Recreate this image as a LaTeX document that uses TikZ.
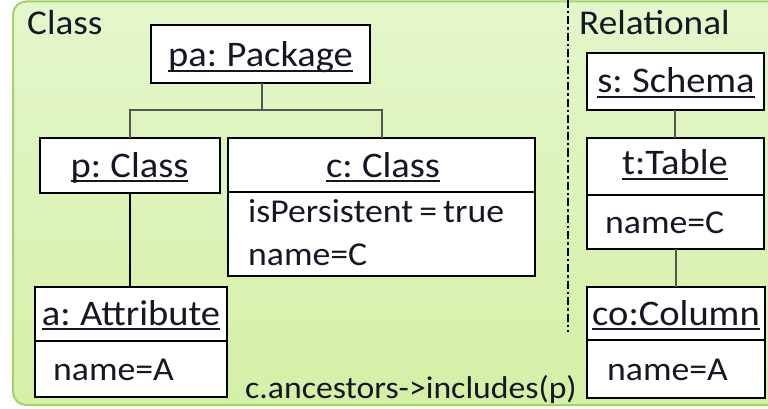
\documentclass[tikz,border=0pt]{standalone}
\usepackage{fontspec}
\setmainfont{Carlito}[FakeStretch=1.07, WordSpace=0.75]
\definecolor{txt}{HTML}{161624}
\definecolor{bgtop}{HTML}{E4F7CC}
\definecolor{bgbot}{HTML}{D4F0A6}
\definecolor{bgline}{HTML}{A2D26A}
\definecolor{conn}{HTML}{555555}
\newsavebox\ulbox
\newcommand\myul[1]{\sbox\ulbox{#1}\rlap{\rule[-4.6pt]{\wd\ulbox}{2pt}}\usebox\ulbox}
\tikzset{
  x=1pt, y=-1pt,
  objbox/.style={draw=black, line width=2.4pt, fill=white},
  hdr/.style={anchor=base, inner sep=0pt, text=txt, font=\fontsize{36}{42}\selectfont},
  attr/.style={anchor=base west, inner sep=0pt, text=txt, font=\fontsize{33.4}{40}\selectfont},
  ttl/.style={anchor=base west, inner sep=0pt, text=txt, font=\fontsize{34.8}{40}\selectfont},
  conline/.style={draw=conn, line width=2pt},
}
\begin{document}
\begin{tikzpicture}
\useasboundingbox (0,0) rectangle (768,409);
\clip (0,0) rectangle (768,409);
% background
\shade[top color=bgtop, bottom color=bgbot, rounded corners=13pt] (13,1.5) rectangle (800,405);
\draw[bgline, line width=2pt, rounded corners=13pt] (13,1.5) rectangle (800,405);
% separator
\draw[black, line width=2.2pt, dash pattern=on 8pt off 3pt on 2.5pt off 3pt] (568,0) -- (568,332);
% titles
\node[ttl] (tclass) at (27,35) {Class};
\node[ttl] (trel) at (579,35) {Relational};
% pa: Package
\path[objbox] (151,25) rectangle (370,83);
\coordinate (paB) at (262,83);
\node[hdr] (pa) at (260.5,67) {\myul{pa: Package}};
% p: Class
\path[objbox] (40,138) rectangle (220,193);
\coordinate (pT) at (130,138);
\coordinate (pB) at (130,193);
\node[hdr] (p) at (129.5,177) {\myul{p: Class}};
% c: Class
\path[objbox] (228,138) rectangle (535,276);
\draw[black, line width=2.4pt] (228,192) -- (535,192);
\coordinate (cT) at (382,138);
\node[hdr] (c) at (383,177) {\myul{c: Class}};
\node[attr] (c1) at (248,222) {isPersistent = true};
\node[attr] (c2) at (248,265) {name=C};
% a: Attribute
\path[objbox] (35,287) rectangle (227,397);
\draw[black, line width=2.4pt] (35,341) -- (227,341);
\coordinate (aT) at (130,287);
\node[hdr] (a) at (131,325) {\myul{a: Attribute}};
\node[attr] (a1) at (53,380) {name=A};
% s: Schema
\path[objbox] (587,53) rectangle (764,110);
\coordinate (sB) at (675,110);
\node[hdr] (s) at (676,93) {\myul{s: Schema}};
% t:Table
\path[objbox] (587,138) rectangle (764,249);
\draw[black, line width=2.4pt] (587,195) -- (764,195);
\coordinate (tT) at (675,138);
\coordinate (tB) at (676,249);
\node[hdr] (t) at (675,175) {\myul{t:Table}};
\node[attr] (t1) at (605,233) {name=C};
% co:Column
\path[objbox] (587,287) rectangle (765,398);
\draw[black, line width=2.4pt] (587,340) -- (765,340);
\coordinate (coT) at (676,287);
\node[hdr] (co) at (676,325) {\myul{co:Column}};
\node[attr] (co1) at (607,380) {name=A};
% constraint
\node[anchor=base west, inner sep=0pt, text=txt, font=\fontsize{31.5}{38}\selectfont] (cons) at (245,398) {c.ancestors->includes(p)};
% connectors
\draw[conline] (paB) -- (262,110) -| (pT);
\draw[conline] (262,110) -| (cT);
\draw[black, line width=2.4pt] (pB) -- (aT);
\draw[conline] (sB) -- (tT);
\draw[conline] (tB) -- (coT);
\end{tikzpicture}
\end{document}
